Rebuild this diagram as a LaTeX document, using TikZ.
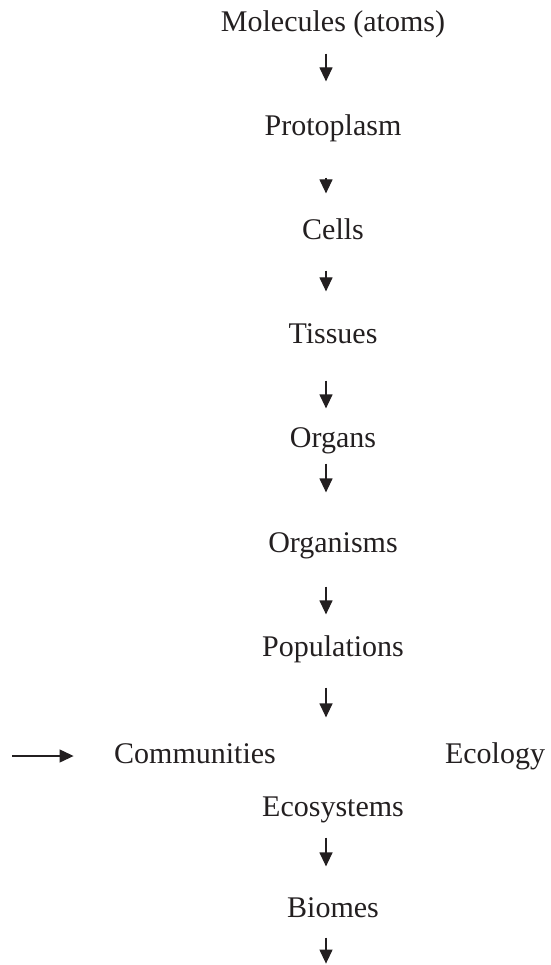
\documentclass[tikz,border=0pt]{standalone}
\usepackage{fontspec}
\setmainfont{Liberation Serif}
\usepackage{tikz}
\usetikzlibrary{arrows.meta, positioning}
\definecolor{ink}{HTML}{231F20}
\tikzset{>={Triangle[length=14pt,width=13pt]}}
\tikzset{lvl/.style={anchor=base, inner sep=0pt, text height=20pt, text depth=6pt, text=ink, font=\fontsize{30}{36}\selectfont}}

\begin{document}
\begin{tikzpicture}[x=1pt,y=-1pt,line width=1.2pt,draw=ink]
        \useasboundingbox (0,0) rectangle (550,965);
        \node (mol) at (333,32)[lvl]{Molecules (atoms)};
        \node (pro) at (333,136)[lvl]{Protoplasm};
        \node (cel) at (333,240)[lvl]{Cells};
        \node (tis) at (333,343)[lvl]{Tissues};
        \node (org) at (333,447)[lvl]{Organs};
        \node (ogm) at (333,552)[lvl]{Organisms};
        \node (pop) at (333,656)[lvl]{Populations};
        \node (com) at (195,763)[lvl]{Communities};
        \node (ecol) at (495,763)[lvl]{Ecology};
        \node (ecos) at (333,816)[lvl]{Ecosystems};
        \node (bio) at (333,917)[lvl]{Biomes};
        \coordinate (src) at (12,756);
        \foreach \u/\v/\s/\e in {mol/pro/15/34, pro/cel/35/26, cel/tis/24/31, tis/org/31/18,
                org/ogm/10/39, ogm/pop/28/21, pop/ecos/25/78, ecos/bio/15/30}
          \draw [->,ink] ([xshift=-7pt,yshift=-\s pt]\u.south)--([xshift=-7pt,yshift=\e pt]\v.north);
        \draw [->,ink] ([xshift=-7pt,yshift=-14pt]bio.south)--++(0,26);
        \draw [->,ink] (src)--([xshift=-40pt]com.west);
        \end{tikzpicture}
\end{document}
